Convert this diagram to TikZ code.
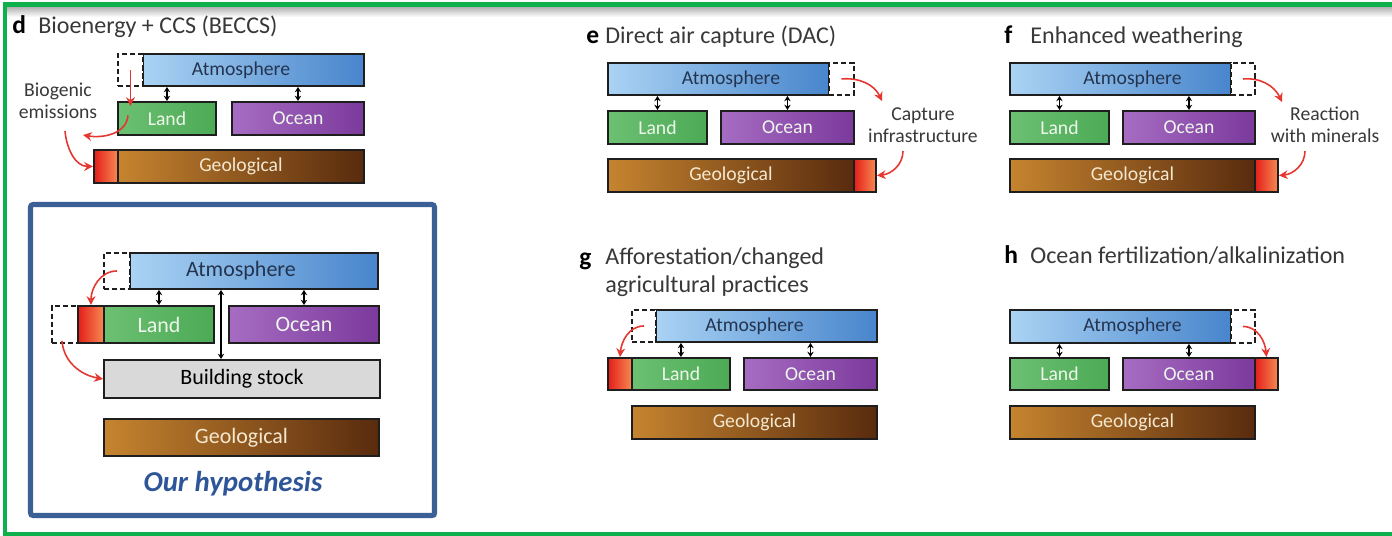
\documentclass[tikz,border=0pt]{standalone}
\usepackage{fontspec}
\setmainfont{Carlito}
\usetikzlibrary{arrows.meta,fit,calc,shadows}

\definecolor{atmL}{HTML}{AAD3F4}
\definecolor{atmR}{HTML}{4885CC}
\definecolor{atmInk}{HTML}{24344F}
\definecolor{landL}{HTML}{6CC072}
\definecolor{landR}{HTML}{4CAA55}
\definecolor{oceL}{HTML}{A66CC2}
\definecolor{oceR}{HTML}{7B3A9C}
\definecolor{geoL}{HTML}{C5842F}
\definecolor{geoR}{HTML}{592B0E}
\definecolor{redL}{HTML}{E41E1A}
\definecolor{redR}{HTML}{F68A52}
\definecolor{boxInk}{HTML}{EEF6EC}
\definecolor{geoInk}{HTML}{F4E8D0}
\definecolor{bldGray}{HTML}{D9D9D9}
\definecolor{boxLine}{HTML}{1E1E1E}
\definecolor{arrRed}{HTML}{E5372F}
\definecolor{ink}{HTML}{383838}
\definecolor{frameGreen}{HTML}{0DB04B}
\definecolor{frameBlue}{HTML}{3A6096}
\definecolor{hypInk}{HTML}{2E5597}

\begin{document}
\begin{tikzpicture}[
        x=0.02cm, y=-0.02cm,
        >={Stealth[length=3pt,width=3.6pt]},
        font=\fontsize{11.2}{12.8}\selectfont
    ]
    \tikzset{
        sized/.style 2 args = {minimum width=#1*0.02cm, minimum height=#2*0.02cm, anchor=north west},
        stock/.style = {rectangle, draw=boxLine, line width=1.1pt, inner sep=0pt},
        atmobox/.style = {stock, left color=atmL, right color=atmR},
        atmotext/.style = {inner sep=0pt, text=atmInk},
        landbox/.style = {stock, left color=landL, right color=landR, text=boxInk},
        oceanbox/.style = {stock, left color=oceL, right color=oceR, text=boxInk},
        geobox/.style = {stock, left color=geoL, right color=geoR, text=geoInk},
        sinkbox/.style = {stock, left color=redL, right color=redR},
        gapbox/.style = {stock, dash pattern=on 3pt off 1.6pt, fill=white},
        bldbox/.style = {stock, fill=bldGray, text=black},
        link/.style = {<->, line width=0.75pt, draw=black},
        flow/.style = {-{Stealth[length=5pt,width=5pt]}, line width=0.9pt, draw=arrRed},
        tag/.style = {anchor=base west, inner sep=0pt, font=\fontsize{14.5}{16}\selectfont\bfseries},
        ttl/.style = {anchor=base west, inner sep=0pt, text=ink, font=\fontsize{13.7}{16}\selectfont},
        note/.style = {align=center, inner sep=0pt, text=ink},
        big/.style = {font=\fontsize{12.5}{14}\selectfont},
    }
    \useasboundingbox (0,0) rectangle (1392,535);

    % outer frame
    \shade[top color=black!30, bottom color=white] (7,7) rectangle (1392,17);
    \draw[frameGreen, line width=2.6pt] (5,4.5) rectangle (1398,534.5);

    % d: BECCS
    \node[tag] (dTag) at (12,33) {d};
    \node[ttl] (dTtl) at (38,33) {Bioenergy + CCS (BECCS)};
    \node[atmobox, sized={221}{32}] (dAtm) at (142,53) {};
    \node[gapbox, sized={25}{32}] (dGap) at (117,53) {};
    \node[atmotext] (dAtmTxt) at ($(dGap.west)!0.5!(dAtm.east)$) {Atmosphere};
    \node[landbox, sized={98}{33}] (dLand) at (117,101) {Land};
    \node[oceanbox, sized={132}{33}] (dOcean) at (231,101) {Ocean};
    \node[geobox, sized={246}{33}] (dGeo) at (117,149) {Geological};
    \node[sinkbox, sized={24}{33}] (dRed) at (93,149) {};
    \node[note] (dBio) at (58,101) {Biogenic\\emissions};
    \draw[link] (dLand.north |- dAtm.south) -- (dLand.north);
    \draw[link] (dOcean.north |- dAtm.south) -- (dOcean.north);
    \coordinate (dOut) at (83,135);
    \coordinate (dIn) at (65,131);
    \draw[flow] (dGap.center) -- ($(dGap.center |- dLand.north)+(0,5)$);
    \draw[flow] ($(dLand.west)+(11,-3)$) to[out=-95, in=-10] (dOut);
    \draw[flow] (dIn) to[out=-85, in=180] (dRed.west);

    % our hypothesis
    \node[draw=frameBlue, line width=2.9pt, fill=white, rounded corners=1.5pt, inner sep=0pt,
          drop shadow={shadow xshift=1.4pt, shadow yshift=-1.4pt, opacity=0.35},
          fit={(30.5,204.5) (434.5,515.5)}] (hypFrame) {};
    \node[atmobox, sized={248}{36}] (hypAtm) at (129,252) {};
    \node[gapbox, sized={26}{36}] (hypGap) at (103,252) {};
    \node[atmotext, big] (hypAtmTxt) at ($(hypGap.west)!0.5!(hypAtm.east)$) {Atmosphere};
    \node[gapbox, sized={26}{37}] (hypGap2) at (51,305) {};
    \node[sinkbox, sized={26}{37}] (hypRed) at (77,305) {};
    \node[landbox, big, sized={110}{37}] (hypLand) at (103,305) {Land};
    \node[oceanbox, big, sized={150}{37}] (hypOcean) at (228,305) {Ocean};
    \node[bldbox, big, sized={276}{38}] (hypBld) at (103,359) {Building stock};
    \node[geobox, big, sized={275}{37}] (hypGeo) at (103,418) {Geological};
    \node[text=hypInk, font=\fontsize{16.4}{18}\selectfont\bfseries\itshape] (hypTxt) at (233,484) {Our hypothesis};
    \coordinate (hypX) at (221,0);
    \draw[link] (hypLand.north |- hypAtm.south) -- (hypLand.north);
    \draw[link] (hypOcean.north |- hypAtm.south) -- (hypOcean.north);
    \draw[link] (hypX |- hypAtm.south) -- (hypX |- hypBld.north);
    \draw[flow] (hypGap.center) to[out=180, in=90] (hypRed.north);
    \draw[flow] ($(hypGap2.south)+(-3,-3)$) to[out=-85, in=170] (hypBld.west);

    % e: DAC
    \node[tag] (eTag) at (586,43) {e};
    \node[ttl] (eTtl) at (605,43) {Direct air capture (DAC)};
    \node[atmobox, sized={221}{32}] (eAtm) at (607,62) {};
    \node[gapbox, sized={25}{32}] (eGap) at (828,62) {};
    \node[atmotext] (eAtmTxt) at ($(eAtm.west)!0.5!(eGap.east)$) {Atmosphere};
    \node[landbox, sized={99}{33}] (eLand) at (607,110) {Land};
    \node[oceanbox, sized={133}{33}] (eOcean) at (720,110) {Ocean};
    \node[geobox, sized={246}{33}] (eGeo) at (607,158) {Geological};
    \node[sinkbox, sized={22}{33}] (eRed) at (853,158) {};
    \node[note] (eCap) at (923,125) {Capture\\infrastructure};
    \draw[link] (eLand.north |- eAtm.south) -- (eLand.north);
    \draw[link] (eOcean.north |- eAtm.south) -- (eOcean.north);
    \coordinate (eOut) at (882,101);
    \coordinate (eIn) at (903,151);
    \draw[flow] (eGap.center) to[out=5, in=115] (eOut);
    \draw[flow] (eIn) to[out=-90, in=5] (eRed.east);

    % f: enhanced weathering
    \node[tag] (fTag) at (1004,43) {f};
    \node[ttl] (fTtl) at (1030,43) {Enhanced weathering};
    \node[atmobox, sized={221}{32}] (fAtm) at (1009,62) {};
    \node[gapbox, sized={24}{32}] (fGap) at (1230,62) {};
    \node[atmotext] (fAtmTxt) at ($(fAtm.west)!0.5!(fGap.east)$) {Atmosphere};
    \node[landbox, sized={99}{33}] (fLand) at (1009,110) {Land};
    \node[oceanbox, sized={132}{33}] (fOcean) at (1122,110) {Ocean};
    \node[geobox, sized={245}{33}] (fGeo) at (1009,158) {Geological};
    \node[sinkbox, sized={23}{33}] (fRed) at (1254,158) {};
    \node[note] (fRea) at (1325,125) {Reaction\\with minerals};
    \draw[link] (fLand.north |- fAtm.south) -- (fLand.north);
    \draw[link] (fOcean.north |- fAtm.south) -- (fOcean.north);
    \coordinate (fOut) at (1282,102);
    \coordinate (fIn) at (1305,151);
    \draw[flow] (fGap.center) to[out=5, in=115] (fOut);
    \draw[flow] (fIn) to[out=-90, in=5] (fRed.east);

    % g: afforestation
    \node[tag] (gTag) at (579,265) {g};
    \node[ttl, anchor=west, align=left] (gTtl) at (605,272.5) {Afforestation/changed\\agricultural practices};
    \node[atmobox, sized={221}{32}] (gAtm) at (655,309) {};
    \node[gapbox, sized={24}{32}] (gGap) at (631,309) {};
    \node[atmotext] (gAtmTxt) at ($(gGap.west)!0.5!(gAtm.east)$) {Atmosphere};
    \node[sinkbox, sized={24}{32}] (gRed) at (607,357) {};
    \node[landbox, sized={98}{32}] (gLand) at (631,357) {Land};
    \node[oceanbox, sized={133}{32}] (gOcean) at (743,357) {Ocean};
    \node[geobox, sized={245}{33}] (gGeo) at (631,405) {Geological};
    \draw[link] (gLand.north |- gAtm.south) -- (gLand.north);
    \draw[link] (gOcean.north |- gAtm.south) -- (gOcean.north);
    \draw[flow] (gGap.center) to[out=180, in=85] (gRed.north);

    % h: ocean fertilization
    \node[tag] (hTag) at (1004,263) {h};
    \node[ttl] (hTtl) at (1030,263) {Ocean fertilization/alkalinization};
    \node[atmobox, sized={221}{33}] (hAtm) at (1009,309) {};
    \node[gapbox, sized={24}{33}] (hGap) at (1230,309) {};
    \node[atmotext] (hAtmTxt) at ($(hAtm.west)!0.5!(hGap.east)$) {Atmosphere};
    \node[landbox, sized={99}{32}] (hLand) at (1009,357) {Land};
    \node[oceanbox, sized={132}{32}] (hOcean) at (1122,357) {Ocean};
    \node[sinkbox, sized={23}{32}] (hRed) at (1254,357) {};
    \node[geobox, sized={245}{33}] (hGeo) at (1009,405) {Geological};
    \draw[link] (hLand.north |- hAtm.south) -- (hLand.north);
    \draw[link] (hOcean.north |- hAtm.south) -- (hOcean.north);
    \draw[flow] (hGap.center) to[out=0, in=95] (hRed.north);
\end{tikzpicture}
\end{document}
